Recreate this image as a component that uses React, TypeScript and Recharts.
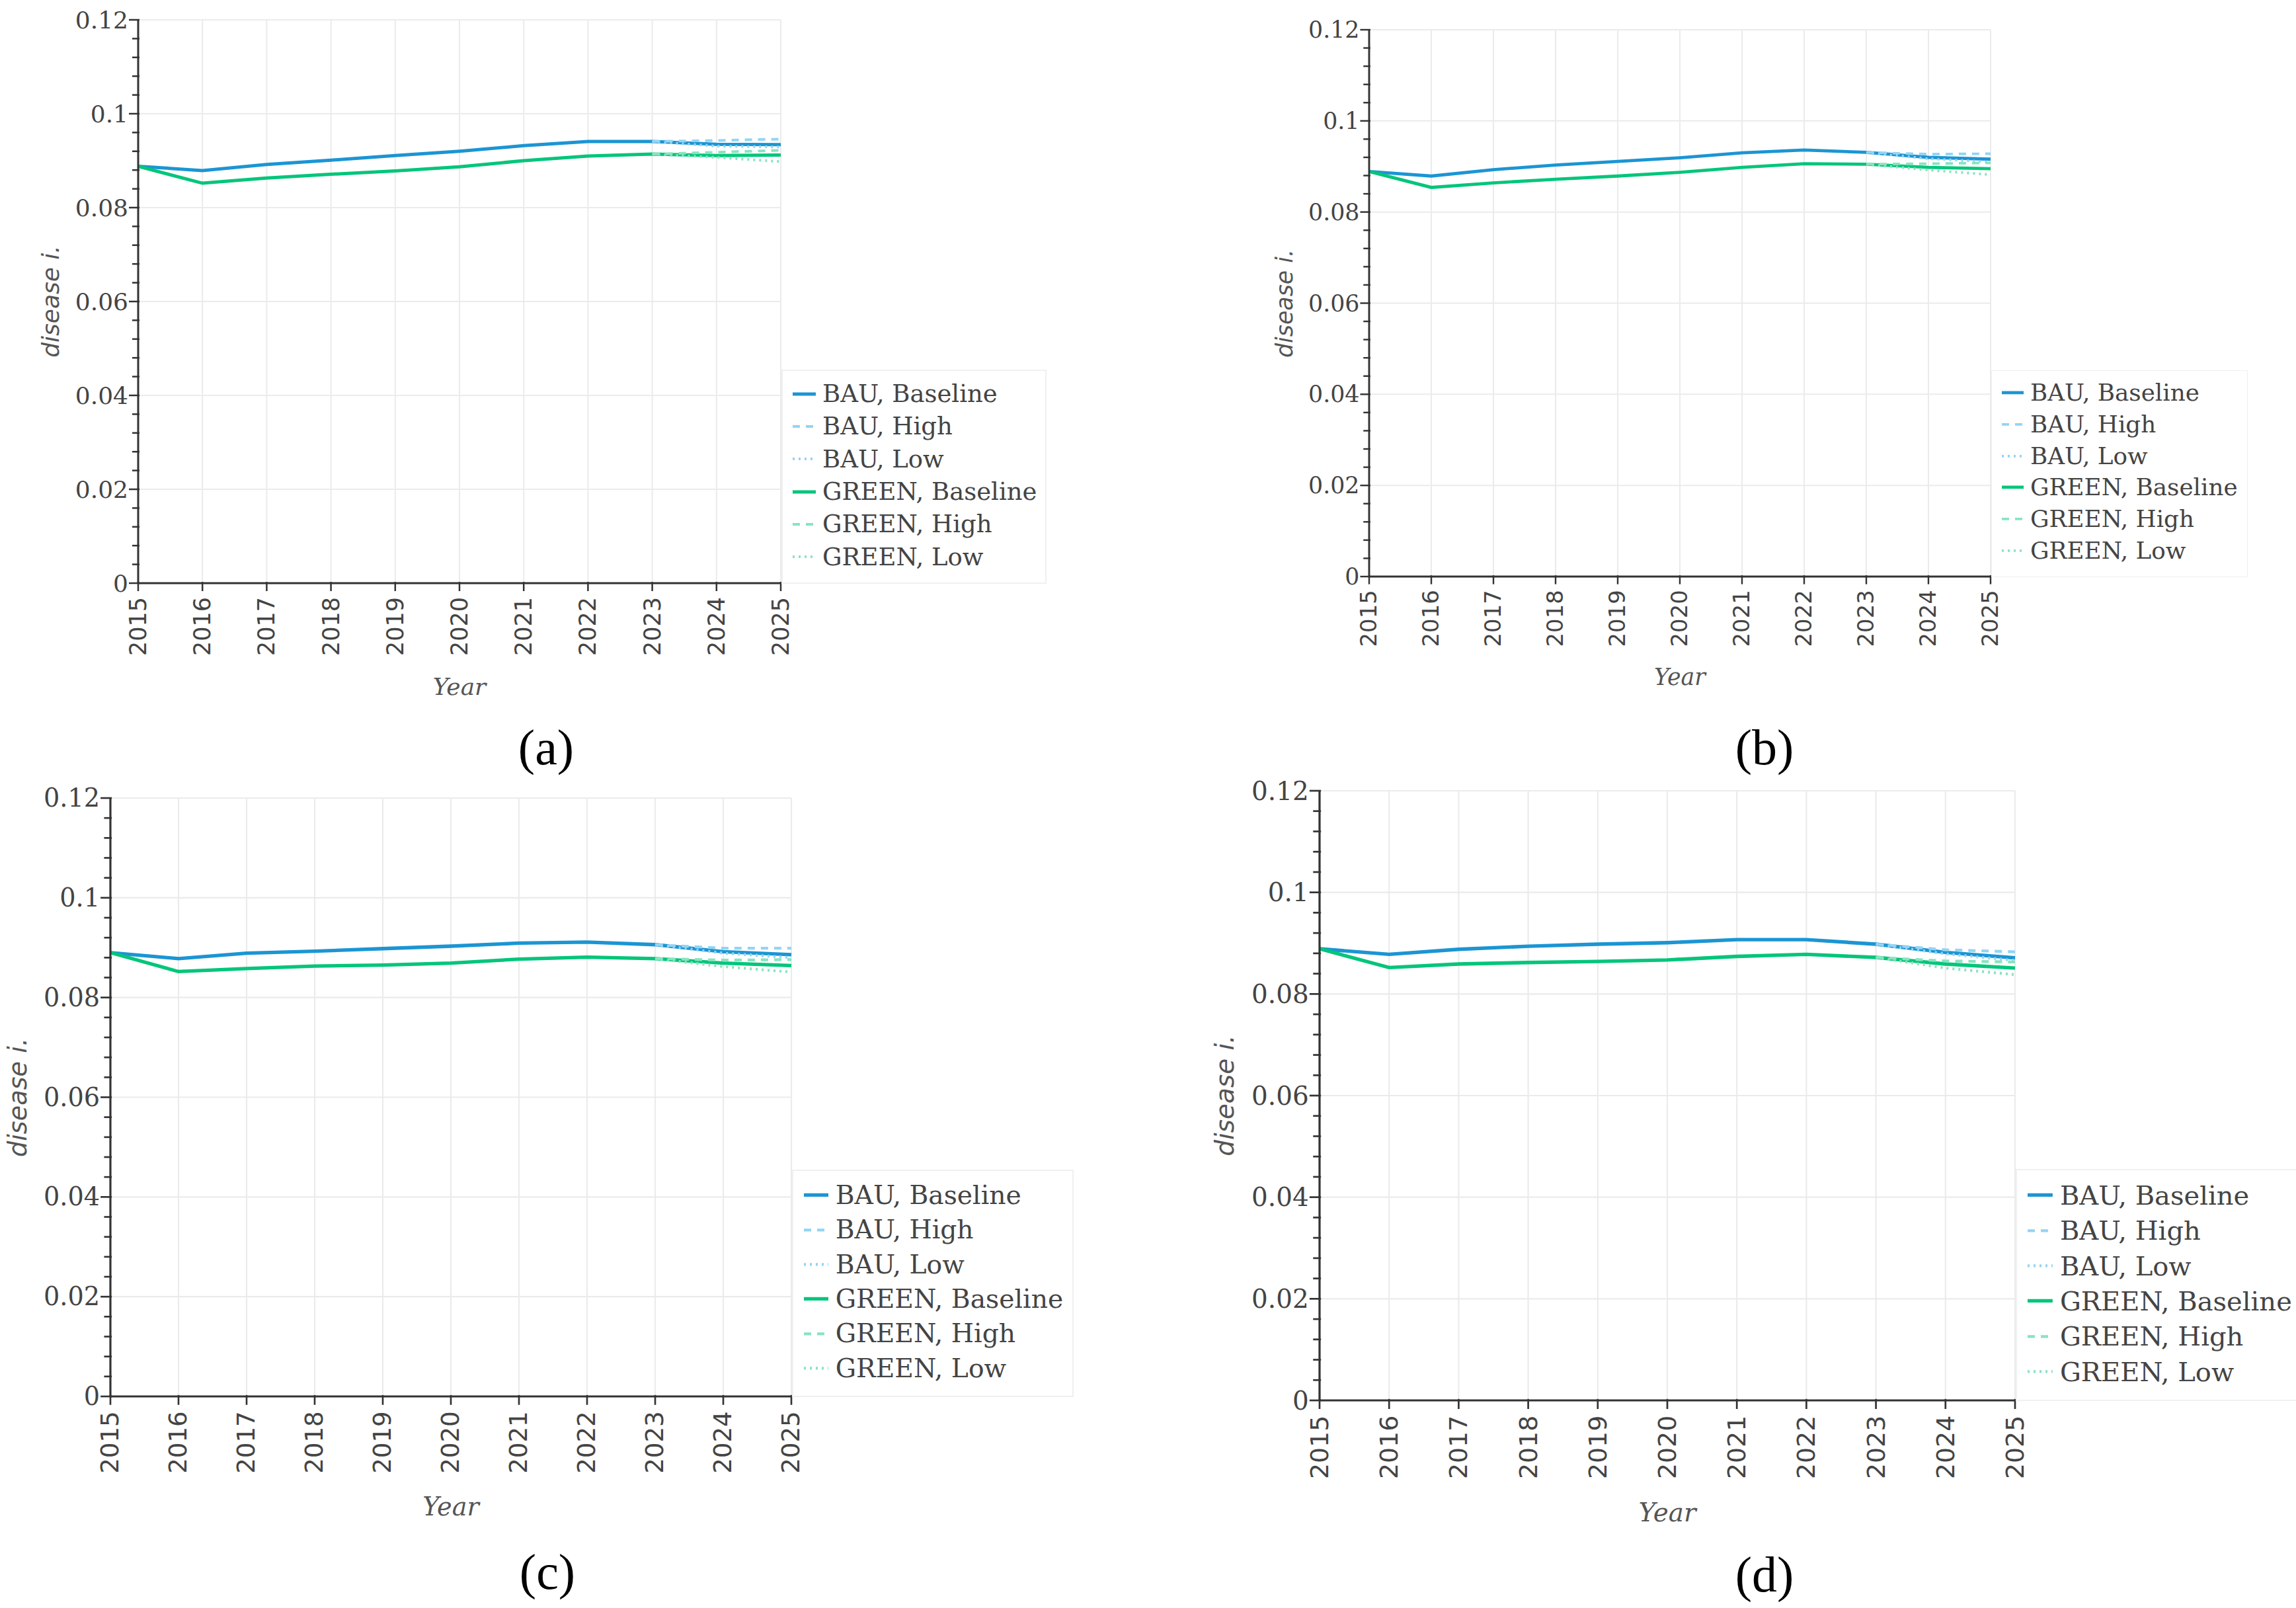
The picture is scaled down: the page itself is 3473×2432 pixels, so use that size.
import React from "react"
import { LineChart, Line, XAxis, YAxis, CartesianGrid, Legend } from "recharts"

// Années et graduations
const years = [2015, 2016, 2017, 2018, 2019, 2020, 2021, 2022, 2023, 2024, 2025]
const yTicks = [
  0, 0.004, 0.008, 0.012, 0.016, 0.02, 0.024, 0.028, 0.032, 0.036, 0.04, 0.044, 0.048, 0.052, 0.056, 0.06,
  0.064, 0.068, 0.072, 0.076, 0.08, 0.084, 0.088, 0.092, 0.096, 0.1, 0.104, 0.108, 0.112, 0.116, 0.12,
]
const yGridValues = [0, 0.02, 0.04, 0.06, 0.08, 0.1, 0.12]

// (a)
const bauBaseA = [0.0888, 0.0879, 0.0892, 0.0901, 0.0911, 0.092, 0.0932, 0.0941, 0.0941, 0.0935, 0.0934]
const bauHighA = [null, null, null, null, null, null, null, null, 0.0941, 0.0943, 0.0946]
const bauLowA = [null, null, null, null, null, null, null, null, 0.0941, 0.0931, 0.0929]
const greenBaseA = [0.0888, 0.0852, 0.0863, 0.0871, 0.0878, 0.0887, 0.09, 0.091, 0.0914, 0.0911, 0.0912]
const greenHighA = [null, null, null, null, null, null, null, null, 0.0914, 0.0918, 0.0922]
const greenLowA = [null, null, null, null, null, null, null, null, 0.0914, 0.0907, 0.0898]

// (b)
const bauBaseB = [0.0889, 0.0879, 0.0893, 0.0903, 0.0911, 0.0919, 0.093, 0.0936, 0.0931, 0.092, 0.0916]
const bauHighB = [null, null, null, null, null, null, null, null, 0.0931, 0.0927, 0.0928]
const bauLowB = [null, null, null, null, null, null, null, null, 0.0931, 0.0917, 0.091]
const greenBaseB = [0.0889, 0.0854, 0.0864, 0.0872, 0.0879, 0.0887, 0.0898, 0.0906, 0.0905, 0.0898, 0.0895]
const greenHighB = [null, null, null, null, null, null, null, null, 0.0905, 0.0906, 0.0908]
const greenLowB = [null, null, null, null, null, null, null, null, 0.0905, 0.0892, 0.0882]

// (c)
const bauBaseC = [0.089, 0.0878, 0.0889, 0.0893, 0.0898, 0.0903, 0.0909, 0.0911, 0.0906, 0.0892, 0.0886]
const bauHighC = [null, null, null, null, null, null, null, null, 0.0906, 0.0899, 0.0899]
const bauLowC = [null, null, null, null, null, null, null, null, 0.0906, 0.0889, 0.088]
const greenBaseC = [0.089, 0.0852, 0.0858, 0.0863, 0.0865, 0.0869, 0.0877, 0.0881, 0.0878, 0.0869, 0.0864]
const greenHighC = [null, null, null, null, null, null, null, null, 0.0878, 0.0875, 0.0876]
const greenLowC = [null, null, null, null, null, null, null, null, 0.0878, 0.0862, 0.0851]

// (d)
const bauBaseD = [0.0889, 0.0878, 0.0888, 0.0894, 0.0898, 0.0901, 0.0907, 0.0907, 0.0898, 0.0882, 0.0871]
const bauHighD = [null, null, null, null, null, null, null, null, 0.0898, 0.0887, 0.0883]
const bauLowD = [null, null, null, null, null, null, null, null, 0.0898, 0.0879, 0.0866]
const greenBaseD = [0.0889, 0.0852, 0.0859, 0.0862, 0.0864, 0.0867, 0.0874, 0.0878, 0.0872, 0.0859, 0.0851]
const greenHighD = [null, null, null, null, null, null, null, null, 0.0872, 0.0865, 0.0863]
const greenLowD = [null, null, null, null, null, null, null, null, 0.0872, 0.0851, 0.0838]

const series = [
  { key: "bauBase", name: "BAU, Baseline", color: "#1b95d3", dash: undefined, width: 5 },
  { key: "bauHigh", name: "BAU, High", color: "#93d4f4", dash: "11 9", width: 4 },
  { key: "bauLow", name: "BAU, Low", color: "#93d4f4", dash: "3 6", width: 4 },
  { key: "greenBase", name: "GREEN, Baseline", color: "#05c57b", dash: undefined, width: 5 },
  { key: "greenHigh", name: "GREEN, High", color: "#88e4bf", dash: "11 9", width: 4 },
  { key: "greenLow", name: "GREEN, Low", color: "#88e4bf", dash: "3 6", width: 4 },
]

const buildRows = (cols: (number | null)[][]) =>
  years.map((year, i) => {
    const row: any = { year }
    series.forEach((s, k) => {
      row[s.key] = cols[k][i]
    })
    return row
  })

const panels = [
  {
    tag: "(a)",
    s: 1,
    plot: { x0: 209, x1: 1181, y0: 30, y1: 882 },
    frame: { x: 0, y: 0, w: 1736, h: 1100 },
    tagPos: { x: 826, y: 1130 },
    data: buildRows([bauBaseA, bauHighA, bauLowA, greenBaseA, greenHighA, greenLowA]),
  },
  {
    tag: "(b)",
    s: 0.967,
    plot: { x0: 2071, x1: 3011, y0: 45, y1: 872 },
    frame: { x: 1736, y: 0, w: 1737, h: 1100 },
    tagPos: { x: 2669, y: 1130 },
    data: buildRows([bauBaseB, bauHighB, bauLowB, greenBaseB, greenHighB, greenLowB]),
  },
  {
    tag: "(c)",
    s: 1.062,
    plot: { x0: 167, x1: 1197, y0: 1207, y1: 2112 },
    frame: { x: 0, y: 1100, w: 1736, h: 1332 },
    tagPos: { x: 828, y: 2377 },
    data: buildRows([bauBaseC, bauHighC, bauLowC, greenBaseC, greenHighC, greenLowC]),
  },
  {
    tag: "(d)",
    s: 1.082,
    plot: { x0: 1996, x1: 3048, y0: 1196, y1: 2118 },
    frame: { x: 1736, y: 1100, w: 1737, h: 1332 },
    tagPos: { x: 2669, y: 2381 },
    data: buildRows([bauBaseD, bauHighD, bauLowD, greenBaseD, greenHighD, greenLowD]),
  },
]

const AXIS = "#333"
const TEXT = "#444"

const makeYTick = (s: number) => (props: any) => {
  const { x, y, payload } = props
  const v = payload.value
  const major = Math.round(v * 1000) % 20 === 0
  return (
    <g>
      <line x1={x - (major ? 14 : 9) * s} x2={x + 2 * s} y1={y} y2={y} stroke={AXIS} strokeWidth={2.5 * s} />
      {major && (
        <text
          x={x - 15 * s}
          y={y}
          textAnchor="end"
          dominantBaseline="central"
          fontFamily="DejaVu Serif"
          fontSize={36 * s}
          fill={TEXT}
        >
          {String(Number(v.toFixed(2)))}
        </text>
      )}
    </g>
  )
}

const makeXTick = (s: number) => (props: any) => {
  const { x, y, payload } = props
  const ty = y + 21 * s
  return (
    <g>
      <line x1={x} x2={x} y1={y - 2 * s} y2={y + 12 * s} stroke={AXIS} strokeWidth={2.5 * s} />
      <text
        x={x}
        y={ty}
        transform={`rotate(-90, ${x}, ${ty})`}
        textAnchor="end"
        dominantBaseline="central"
        fontFamily="DejaVu Sans"
        fontSize={35 * s}
        fill={TEXT}
      >
        {payload.value}
      </text>
    </g>
  )
}

const makeLegend = (s: number, w: number, h: number) => () => (
  <div
    style={{
      width: w,
      height: h,
      boxSizing: "border-box",
      border: `${2 * s}px solid #f0f0f0`,
      background: "#fff",
      paddingTop: 10 * s,
      fontFamily: "DejaVu Serif",
      fontSize: 37 * s,
      color: TEXT,
      lineHeight: 1,
    }}
  >
    {series.map((ser) => (
      <div key={ser.key} style={{ display: "flex", alignItems: "center", height: 49.3 * s, whiteSpace: "nowrap" }}>
        <svg width={35 * s} height={10 * s} style={{ marginLeft: 15 * s, marginRight: 10 * s, flex: "none" }}>
          <line
            x1={0}
            x2={35 * s}
            y1={5 * s}
            y2={5 * s}
            stroke={ser.color}
            strokeWidth={ser.width * s}
            strokeDasharray={ser.dash}
          />
        </svg>
        <span>{ser.name}</span>
      </div>
    ))}
  </div>
)

function Panel({ p }: { p: (typeof panels)[number] }) {
  const { s, plot, frame, data } = p
  const yAxisW = 100
  const xAxisH = 100
  const margin = {
    left: plot.x0 - frame.x - yAxisW,
    top: plot.y0 - frame.y,
    right: frame.x + frame.w - plot.x1,
    bottom: frame.y + frame.h - plot.y1 - xAxisH,
  }
  const lw = 401 * s
  const lh = 324 * s
  return (
    <div style={{ position: "absolute", left: frame.x, top: frame.y }}>
      <LineChart width={frame.w} height={frame.h} data={data} margin={margin}>
        <CartesianGrid stroke="#ebebeb" strokeWidth={2 * s} horizontalValues={yGridValues} verticalValues={years} />
        <XAxis
          dataKey="year"
          type="number"
          domain={[2015, 2025]}
          ticks={years}
          interval={0}
          height={xAxisH}
          tickSize={0}
          tickMargin={0}
          axisLine={{ stroke: AXIS, strokeWidth: 3 * s }}
          tick={makeXTick(s)}
        />
        <YAxis
          type="number"
          domain={[0, 0.12]}
          ticks={yTicks}
          interval={0}
          width={yAxisW}
          tickSize={0}
          tickMargin={0}
          axisLine={{ stroke: AXIS, strokeWidth: 3 * s }}
          tick={makeYTick(s)}
        />
        <Legend
          layout="horizontal"
          verticalAlign="middle"
          align="center"
          content={makeLegend(s, lw, lh)}
          wrapperStyle={{
            left: plot.x1 + 1 - frame.x,
            top: plot.y1 - lh + 1 - frame.y,
            width: lw,
            height: lh,
          }}
        />
        {series.map((ser) => (
          <Line
            key={ser.key}
            type="linear"
            dataKey={ser.key}
            name={ser.name}
            stroke={ser.color}
            strokeWidth={ser.width * s}
            strokeDasharray={ser.dash}
            dot={false}
            activeDot={false}
            connectNulls={false}
            isAnimationActive={false}
          />
        ))}
      </LineChart>
    </div>
  )
}

export default function App() {
  return (
    <div
      style={{
        position: "absolute",
        left: 0,
        top: 0,
        width: 3473,
        height: 2432,
        overflow: "hidden",
        background: "#fff",
      }}
    >
      {panels.map((p) => (
        <Panel key={p.tag} p={p} />
      ))}
      {panels.map((p) => (
        <React.Fragment key={p.tag + "-labels"}>
          <div
            style={{
              position: "absolute",
              left: p.plot.x0 - 132 * p.s,
              top: (p.plot.y0 + p.plot.y1) / 2,
              transform: "translate(-50%, -50%) rotate(-90deg)",
              fontFamily: "DejaVu Sans",
              fontStyle: "italic",
              fontSize: 36 * p.s,
              color: "#555",
              whiteSpace: "nowrap",
              lineHeight: 1,
            }}
          >
            disease i.
          </div>
          <div
            style={{
              position: "absolute",
              left: (p.plot.x0 + p.plot.x1) / 2,
              top: p.plot.y1 + 157 * p.s,
              transform: "translate(-50%, -50%)",
              fontFamily: "DejaVu Serif",
              fontStyle: "italic",
              fontSize: 36 * p.s,
              color: "#555",
              whiteSpace: "nowrap",
              lineHeight: 1,
            }}
          >
            Year
          </div>
          <div
            style={{
              position: "absolute",
              left: p.tagPos.x,
              top: p.tagPos.y,
              transform: "translate(-50%, -50%)",
              fontFamily: "Liberation Serif",
              fontSize: 76,
              color: "#000",
              whiteSpace: "nowrap",
              lineHeight: 1,
            }}
          >
            {p.tag}
          </div>
        </React.Fragment>
      ))}
    </div>
  )
}
